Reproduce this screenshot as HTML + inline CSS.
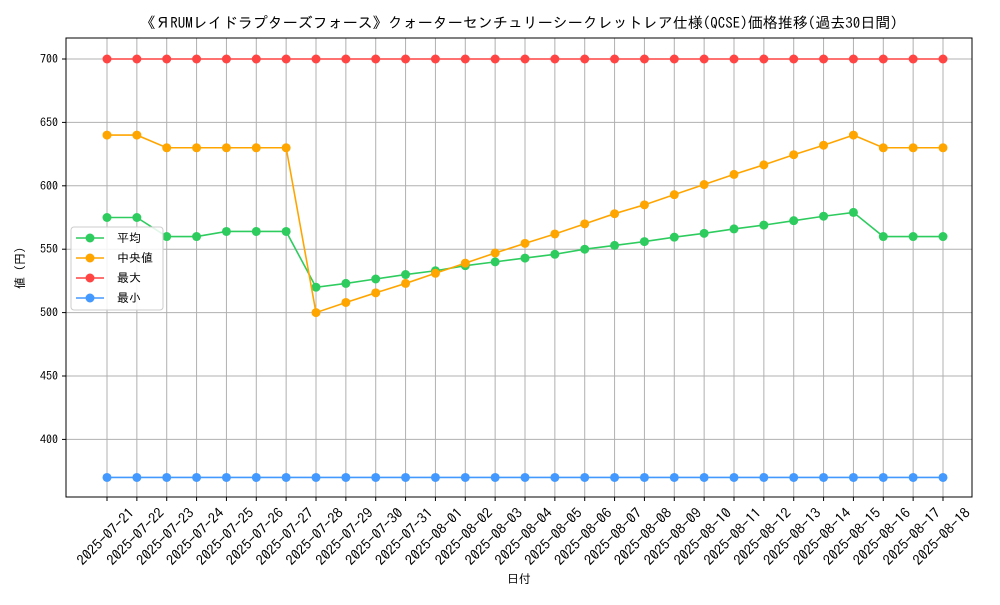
<!DOCTYPE html>
<html><head><meta charset="utf-8">
<style>
body{margin:0;background:#fff;}
svg text{font-family:"IPAGothic","Noto Sans CJK JP",sans-serif;fill:#000;}
</style></head>
<body>
<svg id="chart" width="1000" height="600" xmlns="http://www.w3.org/2000/svg">
<rect width="1000" height="600" fill="#fff"/>
<text x="519" y="28" font-size="15" text-anchor="middle">《ЯRUMレイドラプターズフォース》クォーターセンチュリーシークレットレア仕様(QCSE)価格推移(過去30日間)</text>
<g id="grid"></g>
<g id="series"></g>
<rect x="66" y="38" width="906" height="459" fill="none" stroke="#000" stroke-width="1"/>
<g id="axes"></g>
<text x="519" y="583" font-size="12" text-anchor="middle">日付</text>
<text transform="translate(24,268) rotate(-90)" font-size="12" text-anchor="middle">値 (円)</text>
<g id="legend"></g>
</svg>
<script>
const dates=["2025-07-21","2025-07-22","2025-07-23","2025-07-24","2025-07-25","2025-07-26","2025-07-27","2025-07-28","2025-07-29","2025-07-30","2025-07-31","2025-08-01","2025-08-02","2025-08-03","2025-08-04","2025-08-05","2025-08-06","2025-08-07","2025-08-08","2025-08-09","2025-08-10","2025-08-11","2025-08-12","2025-08-13","2025-08-14","2025-08-15","2025-08-16","2025-08-17","2025-08-18"];
const avgValues=[575,575,560,560,564,564,564,520,523,526.5,530,533,537,540,543,546,550,553,556,559.5,562.5,566,569,572.5,576,579,560,560,560];
const medianValues=[640,640,630,630,630,630,630,500,508,515.6,523,531,539,547,554.6,562,570,578,585,593,601,609,616.5,624.5,632,640,630,630,630];
const maxValues=[700,700,700,700,700,700,700,700,700,700,700,700,700,700,700,700,700,700,700,700,700,700,700,700,700,700,700,700,700];
const minValues=[370,370,370,370,370,370,370,370,370,370,370,370,370,370,370,370,370,370,370,370,370,370,370,370,370,370,370,370,370];
const yTicks=[400,450,500,550,600,650,700];
const seriesNames=["平均","中央値","最大","最小"];

const NS="http://www.w3.org/2000/svg";
const X0=107,X1=943,Y700=59,PXU=1.268;
function xs(i){return X0+(X1-X0)*i/(dates.length-1);}
function ys(v){return Y700+(700-v)*PXU;}
function mk(tag,attrs,parent){const e=document.createElementNS(NS,tag);for(const k in attrs)e.setAttribute(k,attrs[k]);parent.appendChild(e);return e;}
const grid=document.getElementById('grid'),axes=document.getElementById('axes'),ser=document.getElementById('series'),leg=document.getElementById('legend');
dates.forEach((d,i)=>{
  const x=xs(i);
  const g=mk('line',{x1:x,x2:x,y1:38,y2:497,stroke:'#b0b0b0','stroke-width':1},grid);
  
  
  const t=mk('line',{x1:x,x2:x,y1:497,y2:501,stroke:'#000'},axes);
  
  
  const lb=mk('text',{'font-size':14,'text-anchor':'middle',textLength:74,lengthAdjust:'spacingAndGlyphs',transform:`translate(${x+2},${540}) rotate(-45)`},axes);
  lb.textContent=d;
  
  
});
yTicks.forEach(v=>{
  const y=ys(v);
  const g=mk('line',{x1:66,x2:972,y1:y,y2:y,stroke:'#b0b0b0','stroke-width':1},grid);
  
  
  const t=mk('line',{x1:62,x2:66,y1:y,y2:y,stroke:'#000'},axes);
  
  
  const lb=mk('text',{x:58,y:y+4,'font-size':12,'text-anchor':'end'},axes);
  lb.textContent=v;
  
  
});
const series=[[avgValues,'#2ecc5f','avg'],[medianValues,'#ffa500','median'],[maxValues,'#ff4444','max'],[minValues,'#4499ff','min']];
series.forEach(([vals,col,key])=>{
  const g=mk('g',{},ser);
  
  
  const pl=mk('polyline',{points:vals.map((v,i)=>xs(i)+','+ys(v)).join(' '),fill:'none',stroke:col,'stroke-width':1.6},g);
  
  
  vals.forEach((v,i)=>{
    const c=mk('circle',{cx:xs(i),cy:ys(v),r:4.5,fill:col},g);
    
    
  });
});
const box=mk('rect',{x:71,y:227,width:92,height:83,rx:3,fill:'#fff','fill-opacity':0.85,stroke:'#ccc'},leg);


series.forEach(([vals,col,key],i)=>{
  const y=238+i*20;
  const g=mk('g',{},leg);
  
  
  mk('line',{x1:76,x2:104,y1:y,y2:y,stroke:col,'stroke-width':1.6},g);
  mk('circle',{cx:90,cy:y,r:4.5,fill:col},g);
  const t=mk('text',{x:117,y:y+4,'font-size':12},g);
  t.textContent=seriesNames[i];
});
</script>
</body></html>
